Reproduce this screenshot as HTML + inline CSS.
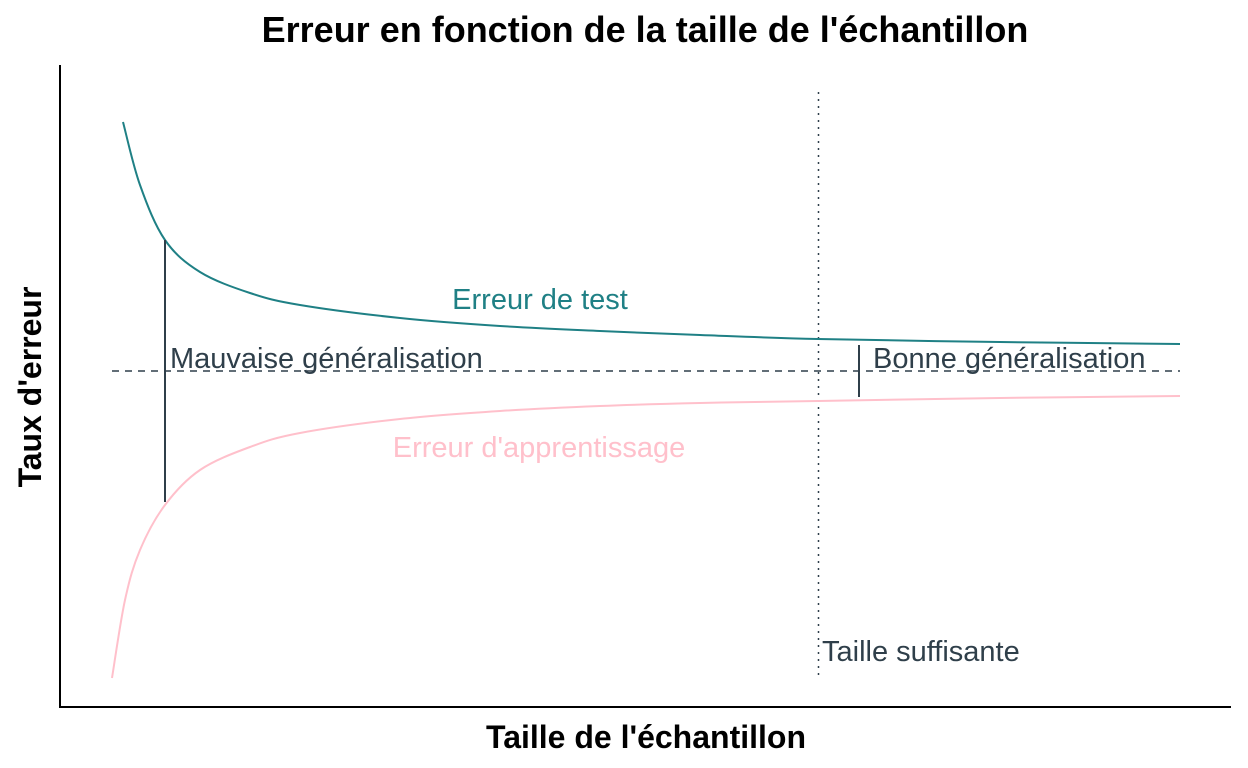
<!DOCTYPE html>
<html><head><meta charset="utf-8"><style>
html,body{margin:0;padding:0;background:#fff;}
svg{display:block;font-family:"Liberation Sans",sans-serif;}
</style></head><body>
<svg width="1248" height="768" viewBox="0 0 1248 768">
<text x="645" y="42" text-anchor="middle" font-size="36" font-weight="bold" fill="#000">Erreur en fonction de la taille de l'échantillon</text>
<line x1="60" y1="65" x2="60" y2="708" stroke="#000" stroke-width="2"/>
<line x1="59" y1="707" x2="1231" y2="707" stroke="#000" stroke-width="2"/>
<text x="646" y="748" text-anchor="middle" font-size="32" font-weight="bold">Taille de l'échantillon</text>
<text transform="translate(41,387) rotate(-90)" text-anchor="middle" font-size="32" font-weight="bold">Taux d'erreur</text>
<g id="plot"></g>
</svg>
<script>
const testN=[21,38,63,98,148,198,298,398,498,598,716,898,1078];
const testV=[0.585,0.522,0.467,0.435,0.414,0.402,0.389,0.381,0.376,0.372,0.368,0.365,0.363];
const trainN=[10,23,38,63,98,148,198,298,398,498,598,716,898,1078];
const trainV=[0.029,0.107,0.157,0.202,0.237,0.260,0.274,0.288,0.296,0.301,0.304,0.306,0.309,0.311];
const thresholdV=0.336;
const sufficientN=716;
const badN=63;
const goodN=757;

function xs(n){return 112+(n-10);}
function ys(v){return 707-v*1000;}
const NS="http://www.w3.org/2000/svg";
const g=document.getElementById('plot');
function mk(tag,attrs){const e=document.createElementNS(NS,tag);for(const k in attrs)e.setAttribute(k,attrs[k]);g.appendChild(e);return e;}
function smooth(N,V){
  const p=N.map((n,i)=>[xs(n),ys(V[i])]);
  let d=`M${p[0][0]},${p[0][1]}`;
  for(let i=0;i<p.length-1;i++){
    const p0=p[i-1]||p[i],p1=p[i],p2=p[i+1],p3=p[i+2]||p2;
    const c1=[p1[0]+(p2[0]-p0[0])/6,p1[1]+(p2[1]-p0[1])/6];
    const c2=[p2[0]-(p3[0]-p1[0])/6,p2[1]-(p3[1]-p1[1])/6];
    d+=` C${c1[0]},${c1[1]} ${c2[0]},${c2[1]} ${p2[0]},${p2[1]}`;
  }
  return d;
}
const thr=mk('line',{x1:xs(10),x2:xs(1078),y1:ys(thresholdV),y2:ys(thresholdV),stroke:'#2f3f4a','stroke-width':1.5,'stroke-dasharray':'7,6'});


const suf=mk('line',{x1:xs(sufficientN)+0.5,x2:xs(sufficientN)+0.5,y1:92,y2:680,stroke:'#2f3f4a','stroke-width':1.5,'stroke-dasharray':'2,5'});


const t=mk('path',{d:smooth(testN,testV),fill:'none',stroke:'#1f8085','stroke-width':2});


const tr=mk('path',{d:smooth(trainN,trainV),fill:'none',stroke:'#ffc0cb','stroke-width':2});


const bad=mk('line',{x1:xs(badN),x2:xs(badN),y1:240,y2:502,stroke:'#2f3f4a','stroke-width':2});


const good=mk('line',{x1:xs(goodN),x2:xs(goodN),y1:345,y2:397,stroke:'#2f3f4a','stroke-width':2});


function txt(s,x,y,fill,anchor,name){const e=mk('text',{x:x,y:y,fill:fill,'font-size':29,'text-anchor':anchor});e.textContent=s;return e;}
txt("Erreur de test",540,309,'#1f8085','middle','test-error-label');
txt("Erreur d'apprentissage",539,457,'#ffc0cb','middle','train-error-label');
txt("Mauvaise généralisation",170,368,'#2f3f4a','start','bad-generalization-label');
txt("Bonne généralisation",873,368,'#2f3f4a','start','good-generalization-label');
txt("Taille suffisante",822,661,'#2f3f4a','start','sufficient-size-label');
</script>
</body></html>
